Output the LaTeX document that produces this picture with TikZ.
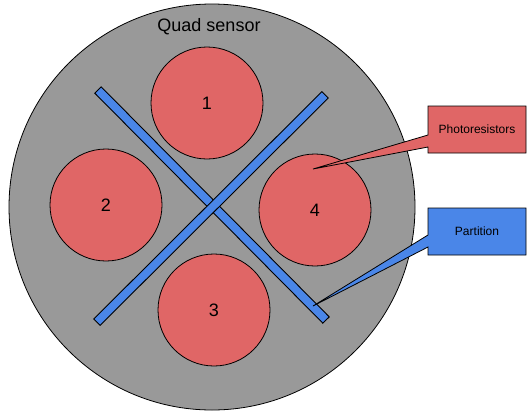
\documentclass[tikz,border=0pt]{standalone}
\usepackage{fontspec}
\setmainfont{Liberation Sans}
\definecolor{sgray}{HTML}{999999}
\definecolor{sred}{HTML}{E06666}
\definecolor{sblue}{HTML}{4A86E8}
\begin{document}
\begin{tikzpicture}[x=1pt,y=-1pt,
  sensor/.style={circle,draw=black,line width=0.8pt,fill=sred,minimum size=112pt,inner sep=0pt,font=\fontsize{18}{20}\selectfont},
  bar/.style={rectangle,draw=black,line width=0.9pt,fill=sblue,minimum height=9pt,inner sep=0pt},
  callout/.style={draw=black,line width=0.8pt},
  lbl/.style={font=\fontsize{12}{14}\selectfont,inner sep=0pt}]
\useasboundingbox (0,0) rectangle (530,416);
\node[circle,draw=black,line width=0.8pt,fill=sgray,minimum size=406pt,inner sep=0pt] (body) at (212,207) {};
\node[anchor=base,font=\fontsize{18}{20}\selectfont,inner sep=0pt] (title) at (209,31) {Quad sensor};
\node[sensor] (c1) at (207,103) {1};
\node[sensor] (c2) at (106,205) {2};
\node[sensor] (c4) at (315,210) {4};
\node[sensor] (c3) at (214,310) {3};
\node[bar,minimum width=324pt,rotate=-45.25] (bar1) at (212,205) {};
\node[bar,minimum width=322pt,rotate=44.9] (bar2) at (211,208.5) {};
% Photoresistors callout
\coordinate (ptip) at (313,169);
\path[callout,fill=sred] (428,106) -- (526,106) -- (526,153) -- (428,153) -- (428,147) -- (ptip) -- (428,135) -- cycle;
\node[lbl] (photo) at (477,129.5) {Photoresistors};
% Partition callout
\coordinate (qtip) at (313,306);
\path[callout,fill=sblue] (428,208) -- (526,208) -- (526,255) -- (428,255) -- (428,247) -- (qtip) -- (428,235) -- cycle;
\node[lbl] (part) at (477,231.5) {Partition};
\end{tikzpicture}
\end{document}
